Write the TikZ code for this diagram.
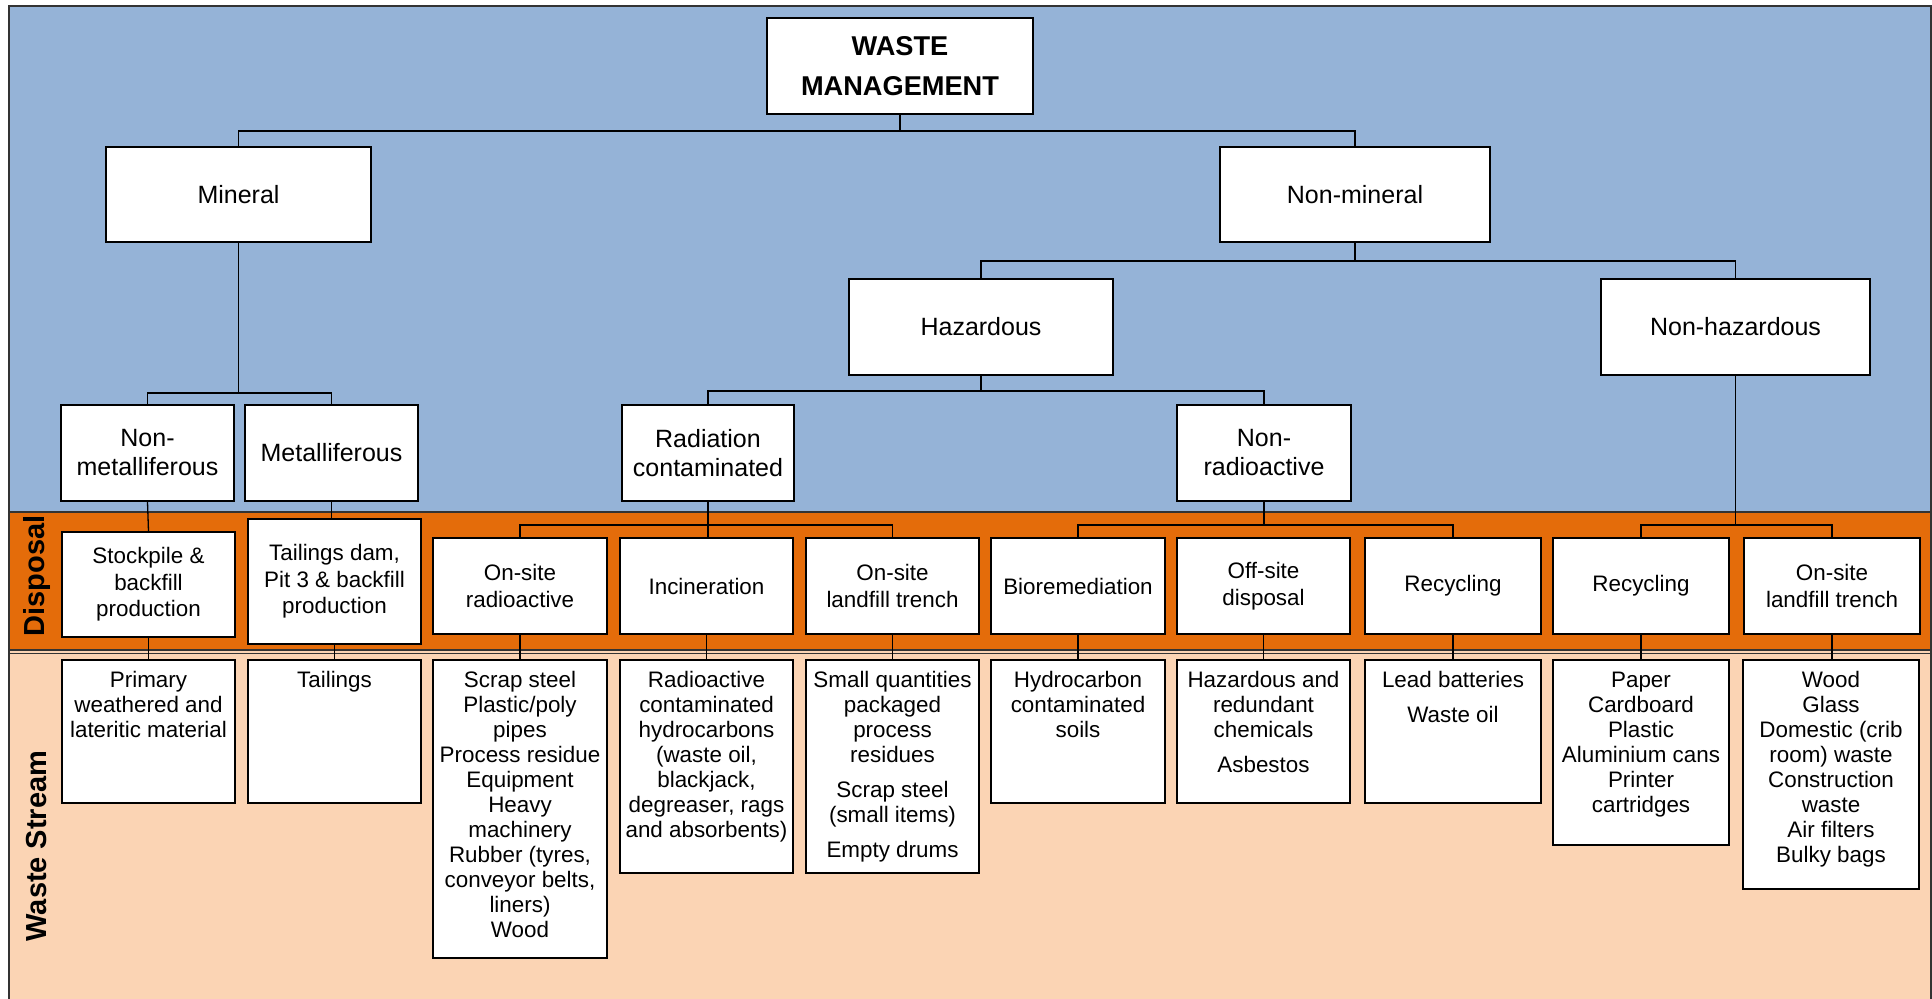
\documentclass[tikz,border=0pt]{standalone}
\usepackage{fontspec}
\setmainfont{Liberation Sans}
\definecolor{bandblue}{HTML}{95B3D7}
\definecolor{bandorange}{HTML}{E46C0A}
\definecolor{bandpeach}{HTML}{FBD4B4}
\definecolor{framegray}{HTML}{333333}
\tikzset{
  box/.style={draw=black, line width=0.8pt, fill=white, inner sep=0pt},
  uptext/.style={align=center, font=\fontsize{12.5}{14.5}\selectfont},
  titletext/.style={align=center, font=\fontsize{13.6}{20}\selectfont\bfseries},
  disptext/.style={align=center, font=\fontsize{11.2}{13.2}\selectfont},
  wtext/.style={align=center, inner sep=0pt, font=\fontsize{11.2}{12.5}\selectfont},
  conn/.style={draw=black, line width=0.65pt},
  bandlabel/.style={rotate=90, inner sep=0pt, font=\fontsize{14.5}{16}\selectfont\bfseries}
}
\newcommand\ubox[7]{% name, x1, x2, y1, y2, style, text
  \node[box, #6, minimum width={(#3-#2)*0.5pt}, minimum height={(#5-#4)*0.5pt}]
    (#1) at ({(#2+#3)/2},{(#4+#5)/2}) {#7};}
\newcommand\wbox[5]{% name, x1, x2, y2, text
  \node[box, minimum width={(#3-#2)*0.5pt}, minimum height={(#4-660)*0.5pt}]
    (#1) at ({(#2+#3)/2},{(660+#4)/2}) {};
  \node[wtext, anchor=north] (#1t) at ([yshift=-6pt]#1.north) {#5};}
\begin{document}
\begin{tikzpicture}[x=0.5pt, y=-0.5pt]
\useasboundingbox (0,0) rectangle (1932,998);
% bands
\fill[bandblue] (9,6) rectangle (1931,512);
\fill[bandorange] (9,512) rectangle (1931,650);
\fill[bandpeach] (9,650) rectangle (1931,1004);
\draw[framegray, line width=0.8pt] (9,1004) -- (9,6) -- (1931,6) -- (1931,1004);
\draw[framegray, line width=0.9pt] (9,512) -- (1931,512);
\draw[framegray, line width=0.9pt] (9,650) -- (1931,650);
\draw[framegray, line width=0.4pt] (9,653) -- (1931,653);
% band labels
\node[bandlabel] (lbldisp) at (37,576) {Disposal};
\node[bandlabel] (lblws) at (37,846) {Waste Stream};
% bus coordinates
\coordinate (b1) at (0,131);
\coordinate (b2) at (0,261);
\coordinate (b3) at (0,393);
\coordinate (b4) at (0,391);
\coordinate (b5) at (0,525);
% upper boxes
\ubox{wm}{767}{1033}{18}{114}{titletext}{WASTE\\MANAGEMENT}
\ubox{mineral}{106}{371}{147}{242}{uptext}{Mineral}
\ubox{nonmin}{1220}{1490}{147}{242}{uptext}{Non-mineral}
\ubox{haz}{849}{1113}{279}{375}{uptext}{Hazardous}
\ubox{nonhaz}{1601}{1870}{279}{375}{uptext}{Non-hazardous}
\ubox{nonmet}{61}{234}{405}{501}{uptext}{Non-\\metalliferous}
\ubox{met}{245}{418}{405}{501}{uptext}{Metalliferous}
\ubox{rad}{622}{794}{405}{501}{uptext}{Radiation\\contaminated}
\ubox{nonrad}{1177}{1351}{405}{501}{uptext}{Non-\\radioactive}
% disposal boxes
\ubox{stock}{62}{235}{532}{637}{disptext}{Stockpile \&\\backfill\\production}
\ubox{tdam}{248}{421}{519}{644}{disptext}{Tailings dam,\\Pit 3 \& backfill\\production}
\ubox{dA}{433}{607}{538}{634}{disptext}{On-site\\radioactive}
\ubox{dB}{620}{793}{538}{634}{disptext}{Incineration}
\ubox{dC}{806}{979}{538}{634}{disptext}{On-site\\landfill trench}
\ubox{dD}{991}{1165}{538}{634}{disptext}{Bioremediation}
\ubox{dE}{1177}{1350}{538}{634}{disptext}{Off-site\\disposal}
\ubox{dF}{1365}{1541}{538}{634}{disptext}{Recycling}
\ubox{dG}{1553}{1729}{538}{634}{disptext}{Recycling}
\ubox{dH}{1744}{1920}{538}{634}{disptext}{On-site\\landfill trench}
% waste stream boxes
\wbox{wS}{62}{235}{803}{Primary\\weathered and\\lateritic material}
\wbox{wT}{248}{421}{803}{Tailings}
\wbox{wA}{433}{607}{958}{Scrap steel\\Plastic/poly\\pipes\\Process residue\\Equipment\\Heavy\\machinery\\Rubber (tyres,\\conveyor belts,\\liners)\\Wood}
\wbox{wB}{620}{793}{873}{Radioactive\\contaminated\\hydrocarbons\\(waste oil,\\blackjack,\\degreaser, rags\\and absorbents)}
\wbox{wC}{806}{979}{873}{Small quantities\\packaged\\process\\residues\\[5pt]Scrap steel\\(small items)\\[5pt]Empty drums}
\wbox{wD}{991}{1165}{803}{Hydrocarbon\\contaminated\\soils}
\wbox{wE}{1177}{1350}{803}{Hazardous and\\redundant\\chemicals\\[5pt]Asbestos}
\wbox{wF}{1365}{1541}{803}{Lead batteries\\[5pt]Waste oil}
\wbox{wG}{1553}{1729}{845}{Paper\\Cardboard\\Plastic\\Aluminium cans\\Printer\\cartridges}
\wbox{wH}{1743}{1919}{889}{Wood\\Glass\\Domestic (crib\\room) waste\\Construction\\waste\\Air filters\\Bulky bags}
% connectors
\draw[conn] (wm.south) -- (wm.south |- b1);
\draw[conn] (mineral.north) |- (wm.south |- b1) -| (nonmin.north);
\draw[conn] (nonmin.south) -- (nonmin.south |- b2);
\draw[conn] (haz.north) |- (nonmin.south |- b2) -| (nonhaz.north);
\draw[conn] (mineral.south) -- (mineral.south |- b3);
\draw[conn] (nonmet.north) |- (mineral.south |- b3) -| (met.north);
\draw[conn] (haz.south) -- (haz.south |- b4);
\draw[conn] (rad.north) |- (haz.south |- b4) -| (nonrad.north);
\draw[conn] (nonmet.south) -- (stock.north);
\draw[conn] (met.south) -- (met.south |- tdam.north);
\draw[conn] (rad.south) -- (rad.south |- b5);
\draw[conn] (dA.north) |- (rad.south |- b5) -| (dC.north);
\draw[conn] (rad.south |- b5) -- (rad.south |- dB.north);
\draw[conn] (nonrad.south) -- (nonrad.south |- b5);
\draw[conn] (dD.north) |- (nonrad.south |- b5) -| (dF.north);
\draw[conn] (nonhaz.south) -- (nonhaz.south |- b5);
\draw[conn] (dG.north) |- (nonhaz.south |- b5) -| (dH.north);
\draw[conn] (stock.south) -- (stock.south |- wS.north);
\draw[conn] (tdam.south) -- (tdam.south |- wT.north);
\draw[conn] (dA.south) -- (dA.south |- wA.north);
\draw[conn] (dB.south) -- (dB.south |- wB.north);
\draw[conn] (dC.south) -- (dC.south |- wC.north);
\draw[conn] (dD.south) -- (dD.south |- wD.north);
\draw[conn] (dE.south) -- (dE.south |- wE.north);
\draw[conn] (dF.south) -- (dF.south |- wF.north);
\draw[conn] (dG.south) -- (dG.south |- wG.north);
\draw[conn] (dH.south) -- (dH.south |- wH.north);
\end{tikzpicture}
\end{document}
